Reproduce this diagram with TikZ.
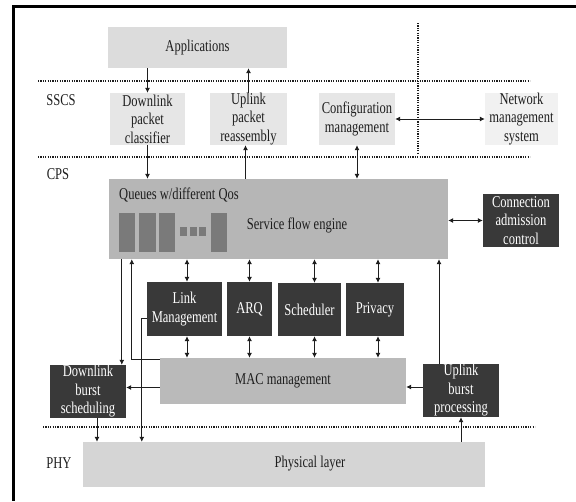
\documentclass[tikz,border=0pt]{standalone}
\usepackage{fontspec}
\setmainfont[FakeStretch=0.76]{Liberation Serif}
\usetikzlibrary{arrows.meta}
\definecolor{appgray}{HTML}{DCDCDC}
\definecolor{sscsgray}{HTML}{E6E6E6}
\definecolor{nmsgray}{HTML}{F1F1F1}
\definecolor{enginegray}{HTML}{B6B6B6}
\definecolor{macgray}{HTML}{BABABA}
\definecolor{phygray}{HTML}{D5D5D5}
\definecolor{darkbox}{HTML}{393939}
\definecolor{queuegray}{HTML}{7A7A7A}
\definecolor{inkgray}{HTML}{1E1E1E}
\tikzset{
  txt/.style={font=\fontsize{16.5}{18.5}\selectfont, text=inkgray, align=center, inner sep=0pt},
  lightbox/.style={txt, fill=#1, draw=none},
  darkbx/.style={txt, fill=darkbox, text=white, draw=none},
  layerline/.style={line width=1.3pt, dash pattern=on 1.2pt off 1.2pt, draw=inkgray},
  arr/.style={draw=inkgray, line width=0.8pt, -{Latex[length=5pt,width=5pt]}},
  darr/.style={draw=inkgray, line width=0.8pt, {Latex[length=5pt,width=5pt]}-{Latex[length=5pt,width=5pt]}},
  lbl/.style={txt, anchor=center}
}
\begin{document}
\begin{tikzpicture}[x=1pt,y=-1pt]
\useasboundingbox (0,0) rectangle (576,501);
% frame
\draw[line width=3.5pt,black] (576,6.5) -- (13.5,6.5) -- (13.5,501);

% layer separators
\draw[layerline] (38,81) -- (530,81);
\draw[layerline] (38,157) -- (530,157);
\draw[layerline] (43,427) -- (535,427);
\draw[layerline] (418,23) -- (418,153);

% layer labels
\node[lbl] (sscs) at (61,100) {SSCS};
\node[lbl] (cps) at (58,174) {CPS};
\node[lbl] (phyl) at (59,463) {PHY};

% SSCS
\node[lightbox=appgray, minimum width=179pt, minimum height=41pt] (app) at (197.5,47.5) {Applications};
\node[lightbox=sscsgray, minimum width=75pt, minimum height=52pt] (dpc) at (147.5,119) {Downlink\\packet\\classifier};
\node[lightbox=sscsgray, minimum width=77pt, minimum height=52pt] (upr) at (248.5,119) {Uplink\\packet\\reassembly};
\node[lightbox=sscsgray, minimum width=76pt, minimum height=52pt] (cfg) at (357,119) {Configuration\\management};
\node[lightbox=nmsgray, minimum width=73pt, minimum height=52pt] (nms) at (521.5,119) {Network\\management\\system};

% CPS
\node[lightbox=enginegray, minimum width=339pt, minimum height=80pt] (sfe) at (278.5,219) {};
\node[txt, anchor=west] (queues) at (119,195) {Queues w/different Qos};
\node[txt] (sfetext) at (297,225) {Service flow engine};
\fill[queuegray] (119,213) rectangle (135,252);
\fill[queuegray] (139,213) rectangle (156,252);
\fill[queuegray] (159,213) rectangle (175,252);
\fill[queuegray] (180,227) rectangle (187,236);
\fill[queuegray] (190,227) rectangle (197,236);
\fill[queuegray] (199,227) rectangle (206,236);
\fill[queuegray] (211,213) rectangle (227,252);

\node[darkbx, minimum width=76pt, minimum height=53pt] (cac) at (521,220.5) {Connection\\admission\\control};
\node[darkbx, minimum width=75pt, minimum height=54pt] (lm) at (184.5,309) {Link\\Management};
\node[darkbx, minimum width=45pt, minimum height=54pt] (arq) at (249.5,309) {ARQ};
\node[darkbx, minimum width=63pt, minimum height=53pt] (sch) at (309.5,309.5) {Scheduler};
\node[darkbx, minimum width=58pt, minimum height=53pt] (prv) at (375,309.5) {Privacy};
\node[lightbox=macgray, minimum width=246pt, minimum height=46pt] (mac) at (283,381) {MAC management};
\node[darkbx, minimum width=76pt, minimum height=53pt] (dbs) at (88,391.5) {Downlink\\burst\\scheduling};
\node[darkbx, minimum width=76pt, minimum height=53pt] (ubp) at (461,390.5) {Uplink\\burst\\processing};

% PHY
\node[lightbox=phygray, minimum width=402pt, minimum height=45pt] (phy) at (284,464.5) {};
\node[txt] (phytext) at (310,464) {Physical layer};

% SSCS connectors
\draw[arr] (dpc.north |- app.south) -- (dpc.north);
\draw[arr] (upr.north) -- (upr.north |- app.south);
\draw[arr] (dpc.south) -- (dpc.south |- sfe.north);
\draw[arr] ([xshift=-3pt]upr.south |- sfe.north) -- ([xshift=-3pt]upr.south);
\draw[darr] (cfg.south) -- (cfg.south |- sfe.north);
\draw[darr] (cfg.east) -- (nms.west);

% CPS connectors
\draw[darr] (sfe.east |- cac.west) -- (cac.west);
\draw[darr] ([xshift=2.5pt]lm.north |- sfe.south) -- ([xshift=2.5pt]lm.north);
\draw[darr] (arq.north |- sfe.south) -- (arq.north);
\draw[darr] ([xshift=5pt]sch.north |- sfe.south) -- ([xshift=5pt]sch.north);
\draw[darr] ([xshift=3pt]prv.north |- sfe.south) -- ([xshift=3pt]prv.north);
\draw[darr] ([xshift=2.5pt]lm.south) -- ([xshift=2.5pt]lm.south |- mac.north);
\draw[darr] (arq.south) -- (arq.south |- mac.north);
\draw[darr] ([xshift=5pt]sch.south) -- ([xshift=5pt]sch.south |- mac.north);
\draw[darr] ([xshift=3pt]prv.south) -- ([xshift=3pt]prv.south |- mac.north);
\draw[arr] ([yshift=4pt]mac.west |- dbs.east) -- ([yshift=4pt]dbs.east);
\draw[arr] ([yshift=3.5pt]ubp.west) -- ([yshift=3.5pt]ubp.west -| mac.east);
\draw[arr] ([xshift=-22pt]ubp.north) -- ([xshift=-22pt]ubp.north |- sfe.south);
\draw[arr] ([xshift=13pt]sfe.south west) -- ([xshift=13pt]sfe.south west |- dbs.north);
\draw[arr] ([yshift=-2pt]mac.north west) -| ([xshift=23pt]sfe.south west);
\draw[arr] ([yshift=-9pt]lm.west) -| ([xshift=-5pt]lm.west |- phy.north);

% PHY connectors
\draw[arr] ([xshift=9pt]dbs.south) -- ([xshift=9pt]dbs.south |- phy.north);
\draw[arr] (phy.north -| ubp.south) -- (ubp.south);
\end{tikzpicture}
\end{document}
